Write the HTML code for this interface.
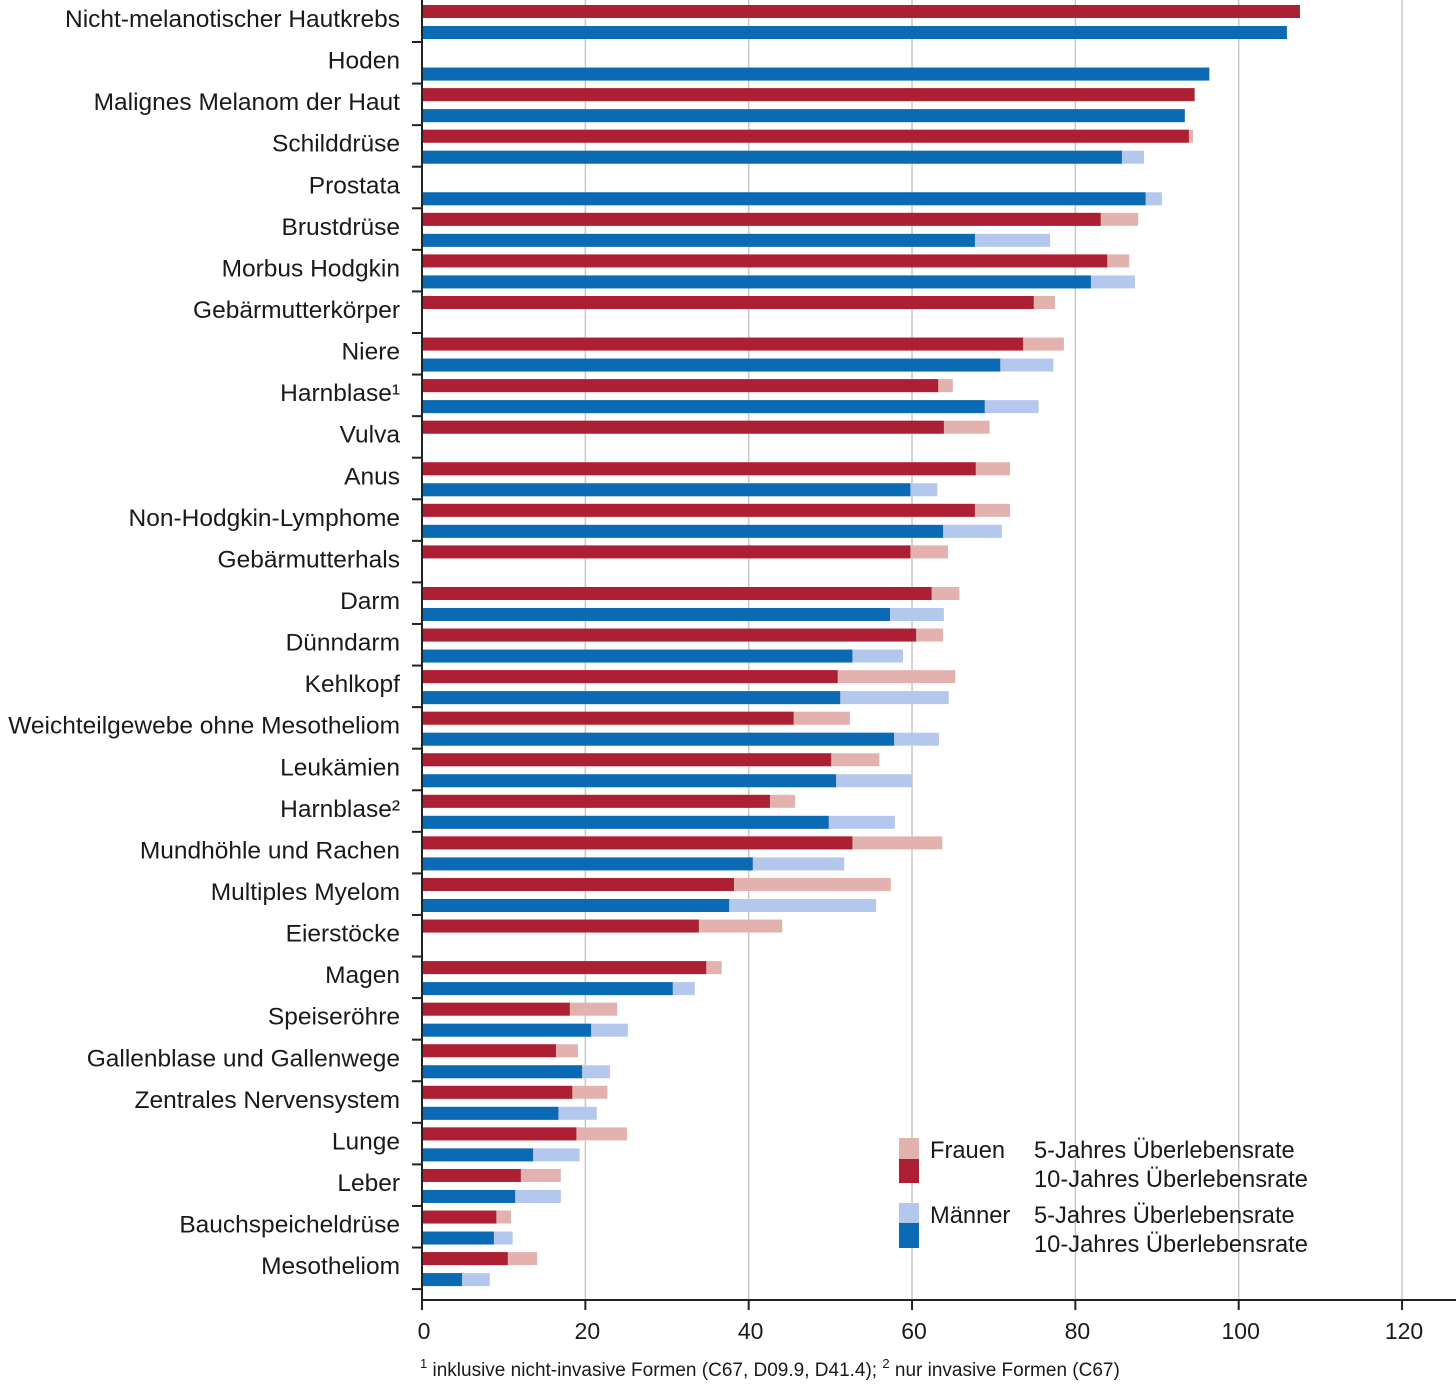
<!DOCTYPE html>
<html><head><meta charset="utf-8"><style>
body{margin:0;background:#fff;}
svg text{font-family:"Liberation Sans",sans-serif;fill:#1a1a1a;}
</style></head><body>
<svg id="c" width="1456" height="1385" xmlns="http://www.w3.org/2000/svg"></svg>
<script>
const categories=["Nicht-melanotischer Hautkrebs","Hoden","Malignes Melanom der Haut","Schilddrüse","Prostata","Brustdrüse","Morbus Hodgkin","Gebärmutterkörper","Niere","Harnblase¹","Vulva","Anus","Non-Hodgkin-Lymphome","Gebärmutterhals","Darm","Dünndarm","Kehlkopf","Weichteilgewebe ohne Mesotheliom","Leukämien","Harnblase²","Mundhöhle und Rachen","Multiples Myelom","Eierstöcke","Magen","Speiseröhre","Gallenblase und Gallenwege","Zentrales Nervensystem","Lunge","Leber","Bauchspeicheldrüse","Mesotheliom"];
const women10=[107.5,null,94.6,93.9,null,83.1,83.9,74.9,73.6,63.2,63.9,67.8,67.7,59.8,62.4,60.5,50.9,45.5,50.1,42.6,52.7,38.2,33.9,34.8,18.1,16.4,18.4,18.9,12.1,9.1,10.5];
const women5=[107.5,null,94.6,94.4,null,87.7,86.6,77.5,78.6,65.0,69.5,72.0,72.0,64.4,65.8,63.8,65.3,52.4,56.0,45.7,63.7,57.4,44.1,36.7,23.9,19.1,22.7,25.1,17.0,10.9,14.1];
const men10=[105.9,96.4,93.4,85.7,88.6,67.7,81.9,null,70.8,68.9,null,59.8,63.8,null,57.3,52.7,51.2,57.8,50.7,49.8,40.5,37.6,null,30.7,20.7,19.6,16.7,13.6,11.4,8.8,4.9];
const men5=[105.9,96.4,93.4,88.4,90.6,76.9,87.3,null,77.3,75.5,null,63.1,71.0,null,63.9,58.9,64.5,63.3,60.0,57.9,51.7,55.6,null,33.4,25.2,23.0,21.4,19.3,17.0,11.1,8.3];
const xTicks=[0,20,40,60,80,100,120];

const NS="http://www.w3.org/2000/svg",svg=document.getElementById('c');
const x=v=>422+v*8.167;
const rowY=i=>19+i*41.57;
function mk(t,a,p){const e=document.createElementNS(NS,t);for(const k in a)e.setAttribute(k,a[k]);(p||svg).appendChild(e);return e;}
xTicks.forEach(t=>{if(t>0){const g=mk('line',{x1:x(t),x2:x(t),y1:0,y2:1300,stroke:'#c8c8c8','stroke-width':1.5});

}
const tk=mk('line',{x1:x(t),x2:x(t),y1:1300,y2:1310,stroke:'#222','stroke-width':2});


const tx=mk('text',{x:x(t)+2,y:1339,'text-anchor':'middle','font-size':23});tx.textContent=t;

});
function bar(v10,v5,yc,dark,light,name){
 if(v5!=null){const r=mk('rect',{x:x(0),y:yc-6.5,width:x(v5)-x(0),height:13,fill:light});
 
 }
 if(v10!=null){const r=mk('rect',{x:x(0),y:yc-6.5,width:x(v10)-x(0),height:13,fill:dark});
 
 }
}
categories.forEach((c,i)=>{const y=rowY(i);
 const t=mk('text',{x:400,y:y+8,'text-anchor':'end','font-size':24.5});t.textContent=c;
 
 
 bar(women10[i],women5[i],y-7.5,'#ad1f33','#e3b2ae','bar-women');
 bar(men10[i],men5[i],y+13.5,'#0b6ab4','#b3c8ec','bar-men');
 const tk=mk('line',{x1:412,x2:422,y1:y+23,y2:y+23,stroke:'#222','stroke-width':2});
 
 
});
const ya=mk('line',{x1:422,x2:422,y1:0,y2:1301,stroke:'#222','stroke-width':2});


const xa=mk('line',{x1:421,x2:1456,y1:1300,y2:1300,stroke:'#222','stroke-width':2});


</script>
<svg style="position:absolute;left:0;top:0" width="1456" height="1385" xmlns="http://www.w3.org/2000/svg">
<g font-size="23.7">
<rect x="899" y="1138" width="20" height="21" fill="#e3b2ae"/><rect x="899" y="1159" width="20" height="24" fill="#ad1f33"/>
<text x="930" y="1158">Frauen</text><text x="1034" y="1158">5-Jahres Überlebensrate</text><text x="1034" y="1187">10-Jahres Überlebensrate</text>
<rect x="899" y="1203" width="20" height="20" fill="#b3c8ec"/><rect x="899" y="1223" width="20" height="25" fill="#0b6ab4"/>
<text x="930" y="1223">Männer</text><text x="1034" y="1223">5-Jahres Überlebensrate</text><text x="1034" y="1252">10-Jahres Überlebensrate</text>
</g>
<text x="420" y="1376" font-size="19"><tspan font-size="13" dy="-8">1</tspan><tspan dy="8"> inklusive nicht-invasive Formen (C67, D09.9, D41.4); </tspan><tspan font-size="13" dy="-8">2</tspan><tspan dy="8"> nur invasive Formen (C67)</tspan></text>
</svg>
</body></html>
